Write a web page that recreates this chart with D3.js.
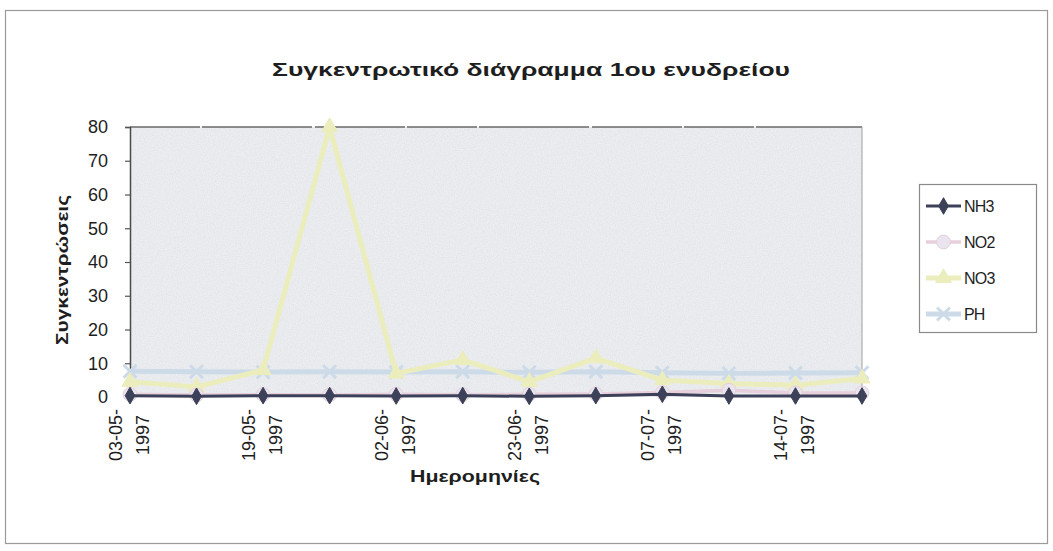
<!DOCTYPE html>
<html>
<head>
<meta charset="utf-8">
<script src="https://cdn.jsdelivr.net/npm/d3@7"></script>
<style>
  html, body { margin: 0; padding: 0; background: #ffffff; }
  svg { display: block; }
  text { font-family: "Liberation Sans", Arial, sans-serif; fill: #1e1e1e; }
</style>
</head>
<body>
<div id="chart"></div>
<script>
// Sampling dates (every other one is labelled on the axis)
const categories = [
  "03-05-1997", "12-05-1997", "19-05-1997", "26-05-1997",
  "02-06-1997", "16-06-1997", "23-06-1997", "30-06-1997",
  "07-07-1997", "10-07-1997", "14-07-1997", "21-07-1997"
];

// Measured concentrations per date
const nh3 = [0.4, 0.2, 0.4, 0.4, 0.3, 0.4, 0.2, 0.4, 0.8, 0.3, 0.3, 0.3];
const no2 = [0.8, 0.6, 0.7, 0.6, 0.8, 0.7, 0.8, 0.9, 1.3, 2.0, 1.2, 1.2];
const no3 = [4.5, 3, 8, 80, 7, 11, 4.5, 11.5, 5, 4, 3.5, 5.5];
const ph  = [7.6, 7.5, 7.4, 7.5, 7.4, 7.5, 7.3, 7.5, 7.2, 7.0, 7.1, 7.2];

const yTicks = [0, 10, 20, 30, 40, 50, 60, 70, 80];

const seriesNames = ["NH3", "NO2", "NO3", "PH"];

const width = 1053, height = 551;
const plot = { left: 130, right: 862, top: 127, bottom: 397 };

const svg = d3.select("#chart").append("svg")
  .attr("width", width).attr("height", height);

// grainy paper texture for the plot area
const defs = svg.append("defs");
const grain = defs.append("filter").attr("id", "grain")
  .attr("x", 0).attr("y", 0).attr("width", "100%").attr("height", "100%");
grain.append("feTurbulence").attr("type", "fractalNoise")
  .attr("baseFrequency", 0.85).attr("numOctaves", 2).attr("seed", 4).attr("result", "n");
grain.append("feColorMatrix").attr("in", "n").attr("type", "matrix")
  .attr("values", "0 0 0 0 0.55  0 0 0 0 0.58  0 0 0 0 0.62  0 0 0 -1.4 1.0");

// outer chart frame
svg.append("rect")
  .attr("x", 5.5).attr("y", 10.5).attr("width", 1042).attr("height", 533)
  .attr("fill", "none").attr("stroke", "#9a9a9a").attr("stroke-width", 1.2);

const x = d3.scalePoint().domain(categories).range([plot.left, plot.right]).padding(0);
const y = d3.scaleLinear().domain([0, 80]).range([plot.bottom, plot.top]);

// plot area
svg.append("rect")
  .attr("x", plot.left).attr("y", plot.top)
  .attr("width", plot.right - plot.left).attr("height", plot.bottom - plot.top)
  .attr("fill", "#eceef1");
svg.append("rect")
  .attr("x", plot.left).attr("y", plot.top)
  .attr("width", plot.right - plot.left).attr("height", plot.bottom - plot.top)
  .attr("filter", "url(#grain)").attr("opacity", 0.3);

// plot border (top and right)
svg.append("line")
  .attr("x1", plot.left).attr("x2", plot.right)
  .attr("y1", plot.top).attr("y2", plot.top)
  .attr("stroke", "#6a6a6a").attr("stroke-width", 1.5).attr("stroke-dasharray", "70 2 110 3 90 2");
svg.append("line")
  .attr("x1", plot.right).attr("x2", plot.right)
  .attr("y1", plot.top).attr("y2", plot.bottom)
  .attr("stroke", "#a0a0a0").attr("stroke-width", 1);

// title
svg.append("text")
  .attr("x", 531).attr("y", 76)
  .attr("text-anchor", "middle")
  .attr("font-size", 19).attr("font-weight", "bold")
  .attr("textLength", 518).attr("lengthAdjust", "spacingAndGlyphs")
  .text("Συγκεντρωτικό διάγραμμα 1ου ενυδρείου");

// y axis
const yAxis = svg.append("g")
  .attr("transform", `translate(${plot.left},0)`)
  .call(d3.axisLeft(y).tickValues(yTicks).tickSize(5).tickPadding(17));
yAxis.select(".domain").attr("stroke", "#4a4a4a").attr("stroke-width", 1.5);
yAxis.selectAll(".tick line").attr("stroke", "#555").attr("stroke-width", 1.2);
yAxis.selectAll(".tick text")
  .attr("font-size", 18).attr("fill", "#1e1e1e")
  .style("font-family", "'Liberation Sans', Arial, sans-serif");

// y axis title
svg.append("text")
  .attr("transform", "translate(68,270) rotate(-90)")
  .attr("text-anchor", "middle")
  .attr("font-size", 16).attr("font-weight", "bold")
  .attr("textLength", 150).attr("lengthAdjust", "spacingAndGlyphs")
  .text("Συγκεντρώσεις");

// x axis: labels on every other date, split into two rotated lines
const labelled = categories.filter((d, i) => i % 2 === 0);
const xAxis = svg.append("g")
  .attr("transform", `translate(0,${plot.bottom})`)
  .call(d3.axisBottom(x).tickValues(labelled).tickSize(0));
xAxis.select(".domain").remove();
xAxis.selectAll(".tick text").each(function (d) {
  const t = d3.select(this);
  const parts = d.split("-");
  t.text(null)
    .attr("transform", "translate(0,38) rotate(-90)")
    .attr("text-anchor", "middle")
    .attr("font-size", 18).attr("fill", "#1e1e1e")
    .style("font-family", "'Liberation Sans', Arial, sans-serif")
    .attr("y", 0).attr("dy", null);
  t.append("tspan").attr("x", 0).attr("y", -9).text(parts[0] + "-" + parts[1] + "-");
  t.append("tspan").attr("x", 0).attr("y", 18).text(parts[2]);
});

// x axis title
svg.append("text")
  .attr("x", 475).attr("y", 482)
  .attr("text-anchor", "middle")
  .attr("font-size", 16).attr("font-weight", "bold")
  .attr("textLength", 130).attr("lengthAdjust", "spacingAndGlyphs")
  .text("Ημερομηνίες");

// series styling
const styles = {
  NH3: { values: nh3, stroke: "#3c4058", width: 3, symbol: d3.symbolDiamond, size: 80, fill: "#3c4058" },
  NO2: { values: no2, stroke: "#e7cfdc", width: 3.5, symbol: d3.symbolCircle, size: 150, fill: "#e9e4ee" },
  NO3: { values: no3, stroke: "#ecedbc", width: 5, symbol: d3.symbolTriangle, size: 110, fill: "#ecedbc" },
  PH:  { values: ph,  stroke: "#cddbe9", width: 5, symbol: d3.symbolX, size: 110, fill: "#cddbe9" }
};

const line = d3.line().x((d, i) => x(categories[i])).y(d => y(d));

// draw back to front: PH, NO3, NO2, NH3
const drawOrder = ["PH", "NO3", "NO2", "NH3"];
drawOrder.forEach(name => {
  const s = styles[name];
  const g = svg.append("g").attr("class", "series-" + name);
  g.append("path")
    .datum(s.values)
    .attr("d", line)
    .attr("fill", "none")
    .attr("stroke", s.stroke)
    .attr("stroke-width", s.width)
    .attr("stroke-linejoin", "round");
  g.selectAll("path.marker")
    .data(s.values)
    .join("path")
    .attr("class", "marker")
    .attr("transform", (d, i) => `translate(${x(categories[i])},${y(d)})`)
    .attr("d", d3.symbol().type(s.symbol).size(s.size))
    .attr("fill", s.symbol === d3.symbolX ? "none" : s.fill)
    .attr("stroke", s.stroke)
    .attr("stroke-width", s.symbol === d3.symbolX ? 3 : 1);
});

// legend
const legend = svg.append("g");
legend.append("rect")
  .attr("x", 919.5).attr("y", 184.5).attr("width", 117).attr("height", 148)
  .attr("fill", "#ffffff").attr("stroke", "#8a8a8a").attr("stroke-width", 1.2);
const legendY = d3.scalePoint().domain(seriesNames).range([206, 314]);
seriesNames.forEach(name => {
  const s = styles[name];
  const ly = legendY(name);
  legend.append("line")
    .attr("x1", 926).attr("x2", 961).attr("y1", ly).attr("y2", ly)
    .attr("stroke", s.stroke).attr("stroke-width", s.width);
  legend.append("path")
    .attr("transform", `translate(943.5,${ly})`)
    .attr("d", d3.symbol().type(s.symbol).size(s.size))
    .attr("fill", s.symbol === d3.symbolX ? "none" : s.fill)
    .attr("stroke", s.stroke)
    .attr("stroke-width", s.symbol === d3.symbolX ? 3 : 1);
  legend.append("text")
    .attr("x", 964).attr("y", ly + 6)
    .attr("font-size", 16)
    .attr("letter-spacing", -0.8)
    .text(name);
});
</script>
</body>
</html>
